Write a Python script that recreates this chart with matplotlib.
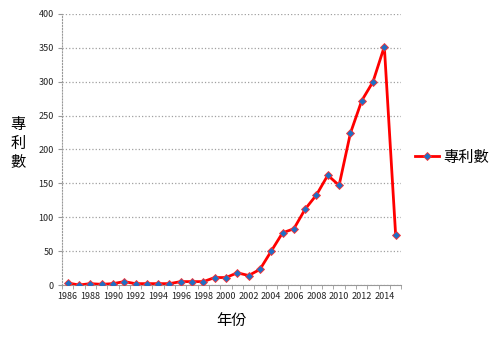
import matplotlib.pyplot as plt
import numpy as np

plt.rcParams['font.family'] = ['Noto Sans CJK TC', 'DejaVu Sans']

years = list(range(1986, 2016))
counts = [3, 0, 2, 1, 2, 5, 2, 2, 2, 2, 5, 5, 5, 11, 11, 18, 14, 23, 50,
          77, 83, 112, 133, 162, 147, 224, 272, 300, 352, 74]
year_labels = [str(y) for y in range(1986, 2015, 2)]

fig = plt.figure(figsize=(5.03, 3.37), dpi=100)
ax = fig.add_axes([0.1233, 0.1543, 0.6745, 0.8042])

x = np.arange(len(years))
ax.plot(x, counts, color='#ff0000', lw=2, marker='D', markersize=4,
        markerfacecolor='#1f6fc4', markeredgecolor='#ff3030', markeredgewidth=0.6,
        label='專利數', zorder=3)

ax.set_xlim(-0.5, len(years) - 0.5)
ax.set_ylim(0, 400)
ax.set_yticks(range(0, 401, 50))
ax.set_xticks(x[::2])
ax.set_xticklabels(year_labels)
ax.set_xticks(np.arange(-0.5, len(years)), minor=True)
ax.tick_params(axis='x', which='major', length=0, pad=5, labelsize=6.5, colors='#222222')
ax.tick_params(axis='x', which='minor', length=3, color='#999999')
ax.tick_params(axis='y', length=3, color='#999999', labelsize=6.5, colors='#222222', pad=3)

ax.grid(axis='y', color='#a0a0a0', linestyle=':', lw=0.9)
for s in ['top', 'right']:
    ax.spines[s].set_visible(False)
ax.spines['left'].set_color('#999999')
ax.spines['left'].set_linestyle(':')
ax.spines['bottom'].set_color('#999999')

ax.set_xlabel('年份', fontsize=11, labelpad=8)
fig.text(0.036, 0.575, '專\n利\n數', fontsize=11, ha='center', va='center', linespacing=1.1)

ax.legend(loc='center left', bbox_to_anchor=(1.0, 0.472), frameon=False, fontsize=11,
          handlelength=1.6, handletextpad=0.25)

fig.savefig('out.png', dpi=100)
